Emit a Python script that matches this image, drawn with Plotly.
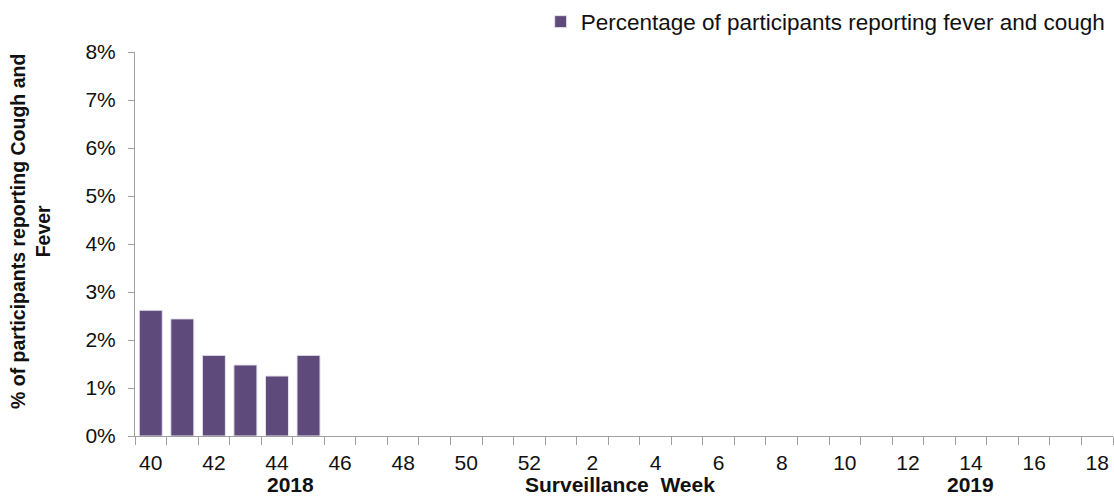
import plotly.graph_objects as go

# Surveillance weeks: 40-52 of 2018, then 1-18 of 2019
weeks = [str(w) for w in range(40, 53)] + [str(w) for w in range(1, 19)]
reported_weeks = ["40", "41", "42", "43", "44", "45"]
pct_fever_cough = [2.62, 2.44, 1.68, 1.48, 1.25, 1.68]
y_ticks = [0, 1, 2, 3, 4, 5, 6, 7, 8]

series_name = "Percentage of participants reporting fever and cough"
bar_color = "#5f4b7b"
axis_color = "#a0a0a0"
font_family = "Liberation Sans, Arial, sans-serif"

# label every other week, tick marks on every category boundary
tick_text = [w if i % 2 == 0 else "" for i, w in enumerate(weeks)]

PLOT_TOP, PLOT_BOTTOM = 52, 436
PLOT_LEFT, PLOT_RIGHT = 135, 1113

fig = go.Figure()
fig.add_trace(go.Bar(
    x=reported_weeks,
    y=pct_fever_cough,
    name=series_name,
    marker=dict(color=bar_color, line=dict(color="#e8e4ee", width=1)),
    showlegend=True,
))

fig.update_layout(
    width=1114, height=497,
    margin=dict(l=PLOT_LEFT, r=1114 - PLOT_RIGHT, t=PLOT_TOP, b=497 - PLOT_BOTTOM,
                autoexpand=False),
    paper_bgcolor="white", plot_bgcolor="white",
    font=dict(family=font_family, color="#111111", size=21),
    bargap=0.27,
    showlegend=True,
    legend=dict(
        xref="container", yref="container",
        x=0.997, xanchor="right", y=1 - 22 / 497, yanchor="middle",
        orientation="h", font=dict(size=22.5),
        itemwidth=30, bgcolor="rgba(0,0,0,0)",
    ),
    xaxis=dict(
        type="category",
        categoryorder="array", categoryarray=weeks,
        tickmode="array", tickvals=weeks, ticktext=tick_text,
        tickson="boundaries", tickangle=0,
        ticks="outside", ticklen=8, tickcolor=axis_color,
        ticklabelstandoff=8,
        showline=True, linecolor=axis_color, linewidth=1,
        showgrid=False, zeroline=False,
        range=[-0.5, len(weeks) - 0.5],
        tickfont=dict(size=21),
    ),
    yaxis=dict(
        range=[0, 8],
        tickmode="array", tickvals=y_ticks,
        ticktext=[f"{v}%" for v in y_ticks],
        ticks="outside", ticklen=6, tickcolor=axis_color,
        ticklabelstandoff=8,
        showline=True, linecolor=axis_color, linewidth=1,
        showgrid=False, zeroline=False,
        tickfont=dict(size=21),
    ),
)

plot_h = PLOT_BOTTOM - PLOT_TOP
plot_w = PLOT_RIGHT - PLOT_LEFT

# rotated y-axis title in two lines
fig.add_annotation(
    text="<b>% of participants reporting Cough and<br>Fever</b>",
    xref="paper", yref="paper",
    x=(30 - PLOT_LEFT) / plot_w, y=(PLOT_BOTTOM - 232) / plot_h,
    xanchor="center", yanchor="middle", textangle=-90,
    showarrow=False, font=dict(size=19.5, family=font_family, color="#111111"),
)

# year markers and axis title under the week labels
for label, xpos in [("2018", 290), ("Surveillance  Week", 620), ("2019", 970)]:
    fig.add_annotation(
        text=f"<b>{label}</b>",
        xref="paper", yref="paper",
        x=(xpos - PLOT_LEFT) / plot_w, y=(PLOT_BOTTOM - 484) / plot_h,
        xanchor="center", yanchor="middle",
        showarrow=False, font=dict(size=21, family=font_family, color="#111111"),
    )

fig.write_html("out.html")
